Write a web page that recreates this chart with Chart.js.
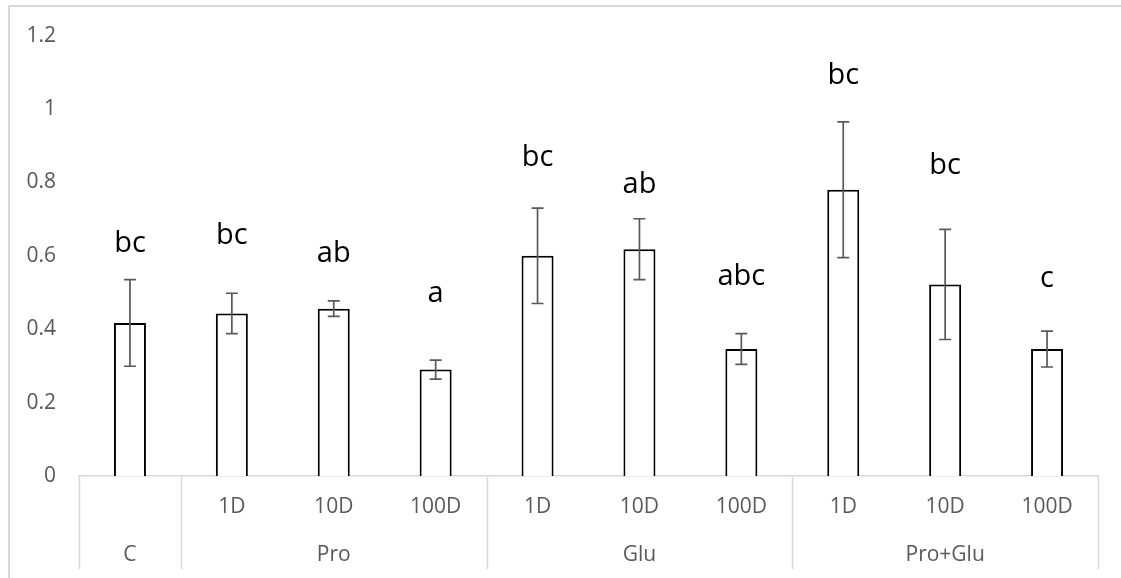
<!DOCTYPE html>
<html>
<head>
<meta charset="utf-8">
<script src="https://cdn.jsdelivr.net/npm/chart.js@4/dist/chart.umd.min.js"></script>
<style>
  html, body { margin: 0; padding: 0; background: #fff; overflow: hidden; }
  #wrap { position: relative; width: 1121px; height: 578px; }
  #frame { position: absolute; left: 8px; top: 5px; width: 1200px; height: 700px; border: 2px solid #d9d9d9; box-sizing: border-box; }
  canvas { position: absolute; left: 0; top: 0; }
</style>
</head>
<body>
<div id="wrap">
  <div id="frame"></div>
  <canvas id="chart" width="1121" height="578"></canvas>
</div>
<script>
  // groups along the bottom row
  const groups = ['C', 'Pro', 'Glu', 'Pro+Glu'];
  const groupSizes = [1, 3, 3, 3];
  // first row of the x axis
  const subLabels = ['', '1D', '10D', '100D', '1D', '10D', '100D', '1D', '10D', '100D'];
  const means = [0.417, 0.443, 0.456, 0.290, 0.600, 0.618, 0.346, 0.780, 0.522, 0.346];
  const errors = [0.118, 0.055, 0.021, 0.026, 0.130, 0.083, 0.042, 0.185, 0.150, 0.049];
  const letters = ['bc', 'bc', 'ab', 'a', 'bc', 'ab', 'abc', 'bc', 'bc', 'c'];
  const letterY = [0.610, 0.631, 0.582, 0.474, 0.844, 0.772, 0.520, 1.067, 0.822, 0.515];

  const FONT = "'Open Sans', 'Noto Sans', sans-serif";
  const tickGrey = '#595959';
  const lineGrey = '#d9d9d9';

  const extras = {
    id: 'extras',
    afterDatasetsDraw(chart) {
      const c = chart.ctx;
      const x = chart.scales.x, y = chart.scales.y;
      c.save();
      // error bars
      c.strokeStyle = '#595959';
      c.lineWidth = 1.7;
      means.forEach((m, i) => {
        const px = x.getPixelForValue(i);
        const top = y.getPixelForValue(m + errors[i]);
        const bot = y.getPixelForValue(m - errors[i]);
        c.beginPath();
        c.moveTo(px, top); c.lineTo(px, bot);
        c.moveTo(px - 6, top); c.lineTo(px + 6, top);
        c.moveTo(px - 6, bot); c.lineTo(px + 6, bot);
        c.stroke();
      });
      // significance letters
      c.fillStyle = '#000';
      c.font = '29px ' + FONT;
      c.textAlign = 'center';
      c.textBaseline = 'alphabetic';
      letters.forEach((t, i) => {
        c.fillText(t, x.getPixelForValue(i), y.getPixelForValue(letterY[i]));
      });
      c.restore();
    },
    afterDraw(chart) {
      const c = chart.ctx;
      const area = chart.chartArea;
      const step = (area.right - area.left) / subLabels.length;
      c.save();
      c.strokeStyle = lineGrey;
      c.lineWidth = 1.5;
      // group separators
      let idx = 0;
      const bounds = [0];
      groupSizes.forEach(n => { idx += n; bounds.push(idx); });
      bounds.forEach(b => {
        const px = Math.round(area.left + b * step) + 0.5;
        c.beginPath();
        c.moveTo(px, area.bottom);
        c.lineTo(px, area.bottom + 93);
        c.stroke();
      });
      // group labels
      c.fillStyle = tickGrey;
      c.font = '21px ' + FONT;
      c.textAlign = 'center';
      c.textBaseline = 'middle';
      groups.forEach((g, k) => {
        const mid = area.left + (bounds[k] + bounds[k + 1]) / 2 * step;
        c.fillText(g, mid, area.bottom + 79);
      });
      c.restore();
    }
  };

  const ctx = document.getElementById('chart').getContext('2d');
  const chart = new Chart(ctx, {
    type: 'bar',
    data: {
      labels: subLabels,
      datasets: [{
        data: means,
        backgroundColor: '#ffffff',
        borderColor: '#000000',
        borderWidth: 2,
        barPercentage: 0.314,
        categoryPercentage: 1
      }]
    },
    options: {
      responsive: false,
      animation: false,
      layout: { padding: { top: 35, right: 23, left: 0, bottom: 0 } },
      plugins: { legend: { display: false }, tooltip: { enabled: false } },
      scales: {
        x: {
          grid: { display: false, drawTicks: false },
          border: { display: true, color: lineGrey, width: 1.5 },
          ticks: { color: tickGrey, font: { size: 21, family: FONT }, padding: 18, maxRotation: 0, autoSkip: false },
          afterFit(scale) { scale.height = 102; }
        },
        y: {
          min: 0,
          max: 1.2,
          grid: { display: false, drawTicks: false },
          border: { display: false },
          ticks: {
            stepSize: 0.2, color: tickGrey, font: { size: 21, family: FONT }, padding: 23,
            callback: v => String(+v.toFixed(1))
          },
          afterFit(scale) { scale.width = 79; }
        }
      }
    },
    plugins: [extras]
  });
</script>
</body>
</html>
